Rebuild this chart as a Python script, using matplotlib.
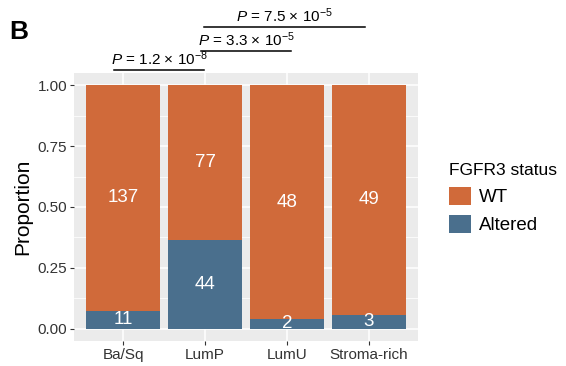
import matplotlib
matplotlib.use("Agg")
import matplotlib.pyplot as plt
from matplotlib.patches import Patch
import numpy as np

plt.rcParams['font.family'] = ['Liberation Sans', 'DejaVu Sans']
plt.rcParams['mathtext.fontset'] = 'custom'
plt.rcParams['mathtext.rm'] = 'Liberation Sans'
plt.rcParams['mathtext.it'] = 'Liberation Sans:italic'

subtypes = ["Ba/Sq", "LumP", "LumU", "Stroma-rich"]
wt_counts = [137, 77, 48, 49]
altered_counts = [11, 44, 2, 3]
y_ticks = [0.0, 0.25, 0.5, 0.75, 1.0]
y_ticklabels = ["0.00", "0.25", "0.50", "0.75", "1.00"]
comparisons = [
    (1, 2, "$P$ = 1.2 × 10$^{\\mathregular{-8}}$"),
    (2, 3, "$P$ = 3.3 × 10$^{\\mathregular{-5}}$"),
    (2, 4, "$P$ = 7.5 × 10$^{\\mathregular{-5}}$"),
]

wt_color = "#D06A3A"
alt_color = "#4A6F8D"

wt = np.array(wt_counts, dtype=float)
alt = np.array(altered_counts, dtype=float)
total = wt + alt
alt_prop = alt / total
wt_prop = wt / total
x = np.arange(1, len(subtypes) + 1)

W, H = 566, 366
fig = plt.figure(figsize=(W / 100, H / 100), dpi=100)
ax = fig.add_axes([74 / W, (H - 341) / H, (418 - 74) / W, (341 - 73) / H])
ax.set_facecolor("#EBEBEB")

ax.bar(x, alt_prop, width=0.9, color=alt_color, zorder=3)
ax.bar(x, wt_prop, bottom=alt_prop, width=0.9, color=wt_color, zorder=3)

for xi, a, w, na, nw in zip(x, alt_prop, wt_prop, altered_counts, wt_counts):
    ax.text(xi, a / 2, str(na), color="white", fontsize=13.5, ha="center", va="center", zorder=4)
    ax.text(xi, a + w / 2, str(nw), color="white", fontsize=13.5, ha="center", va="center", zorder=4)

ax.set_xlim(0.4, 4.6)
ax.set_ylim(-0.05, 1.05)
ax.set_yticks(y_ticks)
ax.set_yticklabels(y_ticklabels)
ax.set_yticks([0.125, 0.375, 0.625, 0.875], minor=True)
ax.set_xticks(x)
ax.set_xticklabels(subtypes)
ax.grid(which="major", color="white", linewidth=1.1, zorder=0)
ax.grid(which="minor", axis="y", color="white", linewidth=0.55, zorder=0)
ax.set_axisbelow(True)
for s in ax.spines.values():
    s.set_visible(False)
ax.tick_params(which="major", length=3, color="#333333", labelcolor="#333333", labelsize=11, pad=2)
ax.tick_params(which="minor", length=0)
ax.set_ylabel("Proportion", fontsize=15, labelpad=4)

# significance brackets above the bars
levels = [1.062, 1.14, 1.238]
spans = [(0.89, 1.99), (1.95, 3.05), (1.99, 3.95)]
for (a, b, label), yl, (x0, x1) in zip(comparisons, levels, spans):
    ax.plot([x0, x1], [yl, yl], color="black", linewidth=1.1, clip_on=False, zorder=5)
    ax.text((x0 + x1) / 2, yl + 0.008, label, fontsize=11, ha="center", va="bottom", clip_on=False)

fig.text(9 / W, 1 - 32 / H, "B", fontsize=19, fontweight="bold", ha="left", va="center")

handles = [Patch(facecolor=wt_color, label="WT"), Patch(facecolor=alt_color, label="Altered")]
leg = fig.legend(handles=handles, title="FGFR3 status", loc="upper left",
                 bbox_to_anchor=(436 / W, 1 - 150 / H), frameon=False, fontsize=13.5,
                 title_fontsize=12.5, handlelength=1.15, handleheight=1.15,
                 handletextpad=0.45, labelspacing=0.45, borderaxespad=0.3)
leg._legend_box.align = "left"

fig.savefig("out.png", dpi=100)
